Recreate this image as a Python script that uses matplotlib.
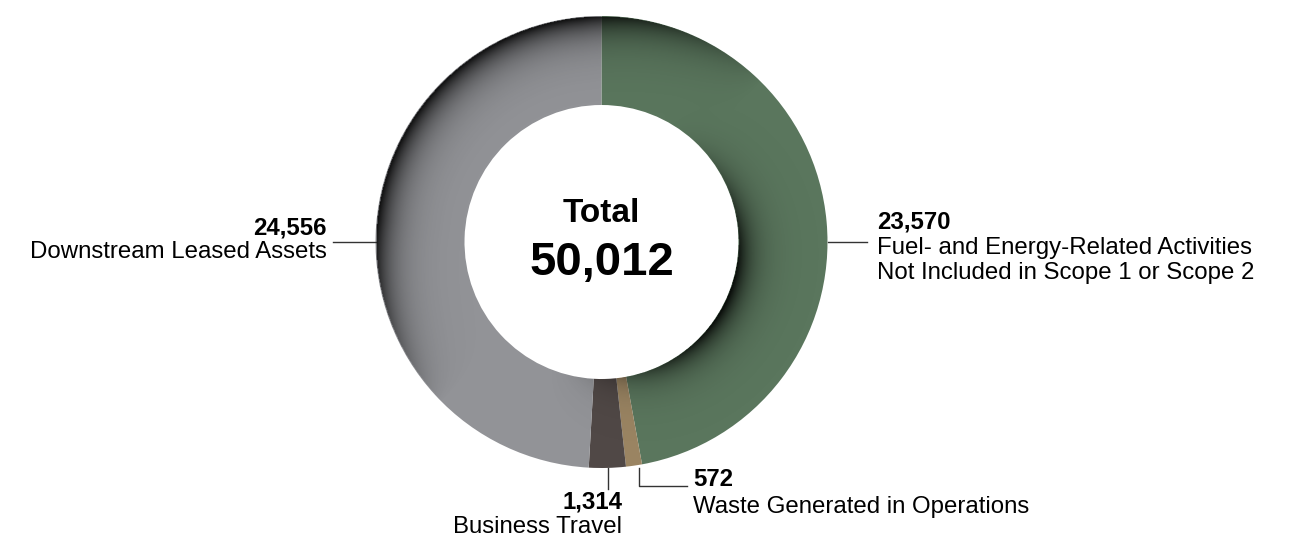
import numpy as np
import matplotlib
matplotlib.use("Agg")
import matplotlib.pyplot as plt
from matplotlib.patches import Wedge

plt.rcParams['font.family'] = ['Liberation Sans', 'DejaVu Sans']

# dados (tCO2e por categoria)
categorias = ["Fuel- and Energy-Related Activities",
              "Waste Generated in Operations",
              "Business Travel",
              "Downstream Leased Assets"]
categoria0_l2 = "Not Included in Scope 1 or Scope 2"
valores = [23570, 572, 1314, 24556]
cores = ["#5a765d", "#9a8462", "#504846", "#929397"]
total = sum(valores)

W, H = 1291, 536
CX, CY = 601.5, H - 242   # centro do anel (y para cima)
R, RI = 226, 137

fig = plt.figure(figsize=(W / 100, H / 100), dpi=100)
ax = fig.add_axes([0, 0, 1, 1])
ax.axis('off')

wedges, _ = ax.pie(valores, colors=cores, startangle=90, counterclock=False,
                   center=(CX, CY), radius=R,
                   wedgeprops=dict(width=R - RI, linewidth=0))

# sombreado nas bordas (efeito 3D)
xs = np.linspace(CX - R, CX + R, 600)
ys = np.linspace(CY - R, CY + R, 600)
X, Y = np.meshgrid(xs, ys)
r = np.hypot(X - CX, Y - CY)
th = np.arctan2(Y - CY, X - CX)
w_out = np.clip(np.cos(th - np.radians(135)) * 1.3, 0, 1)
w_in = np.clip(np.cos(th + np.radians(25)), 0, 1) ** 2 * 1.2
alpha = 0.92 * w_out * np.exp(-(R - r) / 18) + 0.8 * w_in * np.exp(-(r - RI) / 15)
alpha = np.clip(alpha, 0, 1)
alpha[(r > R) | (r < RI)] = 0
img = np.zeros((600, 600, 4))
img[..., 3] = alpha
im = ax.imshow(img, extent=(CX - R, CX + R, CY - R, CY + R), origin='lower',
               interpolation='bilinear', zorder=3)
anel = Wedge((CX, CY), R, 0, 360, width=R - RI, transform=ax.transData)
im.set_clip_path(anel)
ax.set_xlim(0, W)
ax.set_ylim(0, H)
ax.set_aspect('equal')

# total no centro
ax.text(CX, H - 222, "Total", ha='center', va='baseline', fontsize=24, fontweight='bold', zorder=5)
ax.text(CX, H - 275, f"{total:,}", ha='center', va='baseline', fontsize=34, fontweight='bold', zorder=5)

fs = 17.3
lc = '#333333'
# Downstream Leased Assets
ax.plot([333, CX - R], [CY, CY], color=lc, lw=1)
ax.text(327, H - 234, f"{valores[3]:,}", ha='right', va='baseline', fontsize=fs, fontweight='bold')
ax.text(327, H - 258, categorias[3], ha='right', va='baseline', fontsize=fs)

# Fuel- and Energy-Related
ax.plot([CX + R, 867], [CY, CY], color=lc, lw=1)
ax.text(877, H - 229, f"{valores[0]:,}", ha='left', va='baseline', fontsize=fs, fontweight='bold')
ax.text(877, H - 254, categorias[0], ha='left', va='baseline', fontsize=fs)
ax.text(877, H - 279, categoria0_l2, ha='left', va='baseline', fontsize=fs)

# Business Travel
ax.plot([608, 608], [H - 468, H - 489], color=lc, lw=1)
ax.text(622, H - 508, f"{valores[2]:,}", ha='right', va='baseline', fontsize=fs, fontweight='bold')
ax.text(622, H - 533, categorias[2], ha='right', va='baseline', fontsize=fs)

# Waste Generated in Operations
ax.plot([639, 639, 687], [H - 468, H - 486, H - 486], color=lc, lw=1)
ax.text(693, H - 486, f"{valores[1]:,}", ha='left', va='baseline', fontsize=fs, fontweight='bold')
ax.text(693, H - 513, categorias[1], ha='left', va='baseline', fontsize=fs)

plt.savefig("out.png", dpi=100)
